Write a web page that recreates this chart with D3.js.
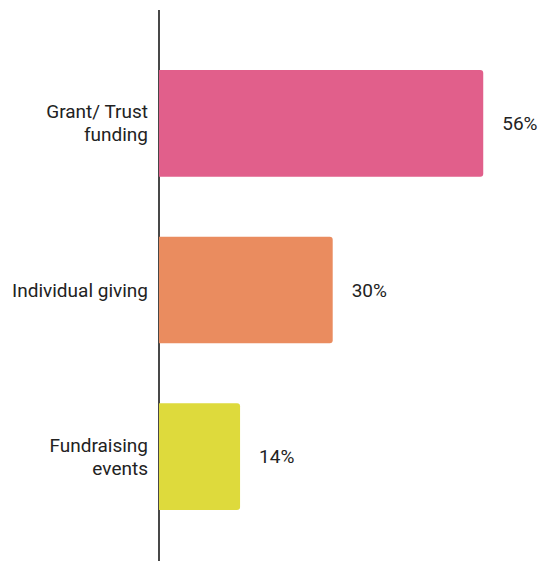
<!DOCTYPE html>
<html>
<head>
<meta charset="utf-8">
<script src="https://cdn.jsdelivr.net/npm/d3@7"></script>
<style>
  html, body { margin: 0; padding: 0; background: #fff; }
  svg { display: block; }
  text { font-family: Roboto, "Noto Sans", sans-serif; fill: #222; }
</style>
</head>
<body>
<svg id="chart" width="541" height="562"></svg>
<script>
// Funding sources, share of total (%)
const categories = [["Grant/ Trust", "funding"], ["Individual giving"], ["Fundraising", "events"]];
const values = [56, 30, 14];
const colors = ["#E15F8B", "#EA8C5F", "#DEDA3C"];
const valueLabels = values.map(v => v + "%");

const svg = d3.select("#chart");
const x0 = 159;

const x = d3.scaleLinear().domain([0, 100]).range([0, 579]);
const y = d3.scaleBand()
  .domain(d3.range(values.length))
  .range([40, 540])
  .paddingInner(0.36)
  .paddingOuter(0.18);

// vertical baseline
svg.append("line")
  .attr("x1", x0).attr("x2", x0)
  .attr("y1", 10).attr("y2", 561)
  .attr("stroke", "#1a1a1a").attr("stroke-width", 1.6);

// bars with rounded right corners
const r = 3;
function barPath(w, top, h) {
  const left = x0, right = x0 + w;
  return `M${left},${top}H${right - r}Q${right},${top} ${right},${top + r}` +
         `V${top + h - r}Q${right},${top + h} ${right - r},${top + h}H${left}Z`;
}

svg.selectAll("path.bar")
  .data(values)
  .join("path")
  .attr("class", "bar")
  .attr("d", (d, i) => barPath(x(d), y(i), y.bandwidth()))
  .attr("fill", (d, i) => colors[i]);

// value labels
svg.selectAll("text.value")
  .data(values)
  .join("text")
  .attr("class", "value")
  .attr("x", d => x0 + x(d) + 19)
  .attr("y", (d, i) => y(i) + y.bandwidth() / 2)
  .attr("dy", "0.35em")
  .attr("font-size", 19)
  .text((d, i) => valueLabels[i]);

// category labels
const lineH = 23;
svg.selectAll("text.cat")
  .data(categories)
  .join("text")
  .attr("class", "cat")
  .attr("text-anchor", "end")
  .attr("font-size", 19)
  .each(function (lines, i) {
    const cy = y(i) + y.bandwidth() / 2;
    const startY = cy - (lines.length - 1) * lineH / 2;
    d3.select(this).selectAll("tspan")
      .data(lines)
      .join("tspan")
      .attr("x", 148)
      .attr("y", (l, j) => startY + j * lineH)
      .attr("dy", "0.35em")
      .text(l => l);
  });
</script>
</body>
</html>
